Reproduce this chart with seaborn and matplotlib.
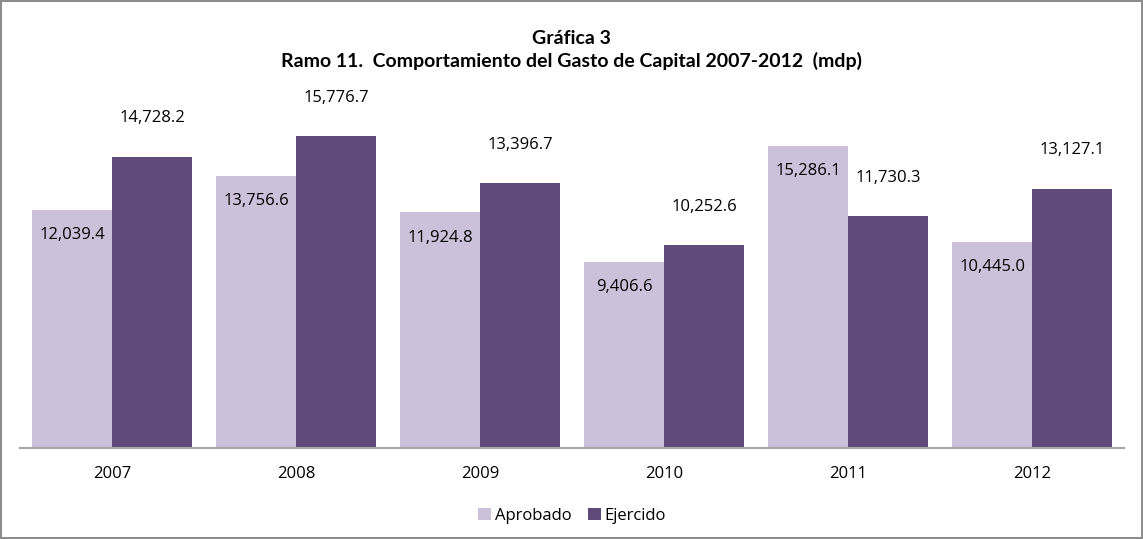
import pandas as pd
import matplotlib.pyplot as plt
import seaborn as sns

# Datos (mdp)
anios = ['2007', '2008', '2009', '2010', '2011', '2012']
aprobado = [12039.4, 13756.6, 11924.8, 9406.6, 15286.1, 10445.0]
ejercido = [14728.2, 15776.7, 13396.7, 10252.6, 11730.3, 13127.1]
series = ['Aprobado', 'Ejercido']
colores = ['#CCC1DA', '#604A7B']

df = pd.DataFrame({
    'anio': anios * 2,
    'serie': [series[0]] * len(anios) + [series[1]] * len(anios),
    'valor': aprobado + ejercido,
})

sns.set_style('white')
plt.rcParams['font.family'] = ['Open Sans', 'DejaVu Sans']
plt.rcParams['text.color'] = 'black'
plt.rcParams['xtick.color'] = 'black'

fig = plt.figure(figsize=(11.43, 5.39), dpi=100)
fig.patch.set_edgecolor('#8C8C8C')
fig.patch.set_linewidth(1.5)
ax = fig.add_axes([0.0175, 0.1688, 0.966, 0.660])

sns.barplot(data=df, x='anio', y='valor', hue='serie', order=anios,
            hue_order=series, palette=colores, width=0.87, saturation=1,
            linewidth=0, ax=ax, legend=True)

fmt = lambda v: f'{v:,.1f}'
ax.bar_label(ax.containers[0], labels=[fmt(v) for v in aprobado],
             padding=-24, fontsize=12, color='black')
ax.bar_label(ax.containers[1], labels=[fmt(v) for v in ejercido],
             padding=22, fontsize=12, color='black')

ax.set_ylim(0, 18000)
ax.set_xlim(-0.5, 5.5)
ax.set_xlabel('')
ax.set_ylabel('')
ax.set_yticks([])
ax.tick_params(axis='x', length=0, pad=13, labelsize=12, labelcolor='black')
for s in ['top', 'right', 'left']:
    ax.spines[s].set_visible(False)
ax.spines['bottom'].set_color('#A6A6A6')
ax.spines['bottom'].set_linewidth(1.5)

ax.legend(loc='center', bbox_to_anchor=(0.5, -0.19), ncol=2,
          frameon=False, fontsize=12, handlelength=0.8, handleheight=0.8,
          handletextpad=0.2, columnspacing=1.0, labelcolor='black')

fig.text(0.5, 0.928, 'Gráfica 3', ha='center', va='center', color='black',
         fontsize=14, fontweight='bold', family=['Lato', 'DejaVu Sans'])
fig.text(0.5, 0.887, 'Ramo 11.  Comportamiento del Gasto de Capital 2007-2012  (mdp)',
         ha='center', va='center', fontsize=14, fontweight='bold', color='black',
         family=['Lato', 'DejaVu Sans'])

fig.savefig('out.png', dpi=100)
